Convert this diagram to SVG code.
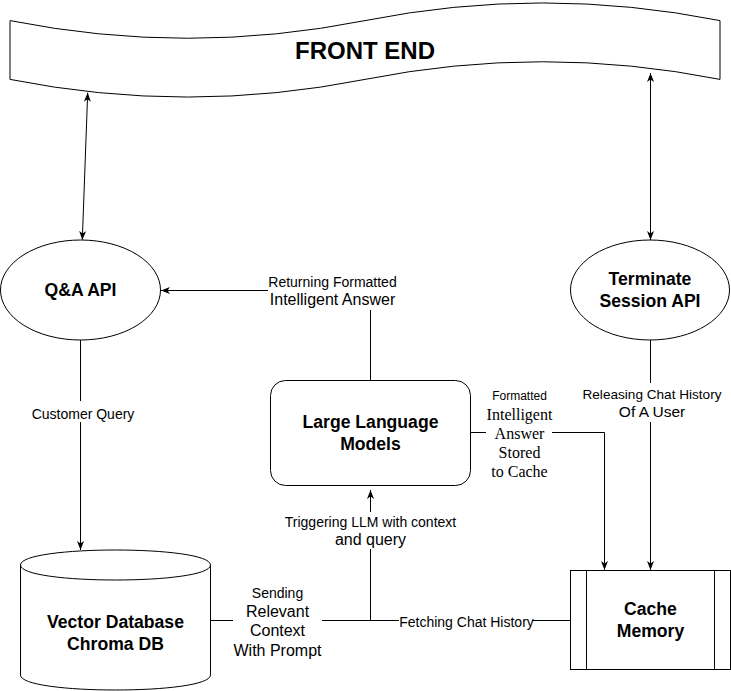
<svg xmlns="http://www.w3.org/2000/svg" width="731" height="691" viewBox="0 0 731 691">
<style>
.shape{fill:#ffffff;stroke:#000000;stroke-width:1}
.edge{fill:none;stroke:#000000;stroke-width:1}
.node{font-family:"Liberation Sans",Arial,sans-serif;font-weight:bold;font-size:17.6px;fill:#000000;text-anchor:middle;dominant-baseline:central}
.lbl{font-family:"Liberation Sans",Arial,sans-serif;font-size:14px;fill:#000000;text-anchor:middle;dominant-baseline:central}
.lbl2{font-family:"Liberation Sans",Arial,sans-serif;font-size:16px;fill:#000000;text-anchor:middle;dominant-baseline:central}
.ser{font-family:"Liberation Serif","Times New Roman",serif;font-size:16px;fill:#000000;text-anchor:middle;dominant-baseline:central}
</style>
<defs>
<marker id="arr" markerUnits="userSpaceOnUse" viewBox="0 0 9 7" refX="9" refY="3.5" markerWidth="9" markerHeight="7" orient="auto-start-reverse">
<path d="M0,0 L9,3.5 L0,7 L2.5,3.5 Z" fill="#000000"/>
</marker>
</defs>
<rect width="731" height="691" fill="#ffffff"/>

<g id="front-end">
<path class="shape" d="M10,20.6 Q187.5,55.9 365,20.6 Q542.5,-14.7 720,20.6 L720,79.4 Q542.5,44.1 365,79.4 Q187.5,114.7 10,79.4 Z"/>
<text class="node" x="365" y="50" style="font-size:24px">FRONT END</text>
</g>

<g id="qa-api">
<ellipse class="shape" cx="80.5" cy="290" rx="80" ry="50"/>
<text class="node" x="80.5" y="290">Q&amp;A API</text>
</g>

<g id="terminate-api">
<ellipse class="shape" cx="650" cy="290" rx="79.5" ry="50"/>
<text class="node" x="650" y="279">Terminate</text>
<text class="node" x="650" y="301">Session API</text>
</g>

<g id="llm">
<rect class="shape" x="270.5" y="380.5" width="200" height="105" rx="15" ry="15"/>
<text class="node" x="370.5" y="422">Large Language</text>
<text class="node" x="370.5" y="444">Models</text>
</g>

<g id="vector-db">
<path class="shape" d="M20.5,565 C20.5,545 210.5,545 210.5,565 L210.5,675 C210.5,695 20.5,695 20.5,675 Z"/>
<path class="edge" d="M20.5,565 C20.5,585 210.5,585 210.5,565"/>
<text class="node" x="115.5" y="622">Vector Database</text>
<text class="node" x="115.5" y="644">Chroma DB</text>
</g>

<g id="cache-memory">
<rect class="shape" x="570.5" y="570.5" width="160" height="99"/>
<line class="edge" x1="586.5" y1="570.5" x2="586.5" y2="669.5"/>
<line class="edge" x1="714.5" y1="570.5" x2="714.5" y2="669.5"/>
<text class="node" x="650.5" y="609">Cache</text>
<text class="node" x="650.5" y="631">Memory</text>
</g>

<g id="connectors">
<line class="edge" x1="87.7" y1="92.7" x2="82.3" y2="240" marker-start="url(#arr)" marker-end="url(#arr)"/>
<line class="edge" x1="650.5" y1="73" x2="650.5" y2="240" marker-start="url(#arr)" marker-end="url(#arr)"/>

<line class="edge" x1="80.5" y1="340" x2="80.5" y2="401"/>
<line class="edge" x1="80.5" y1="422" x2="80.5" y2="550" marker-end="url(#arr)"/>
<text class="lbl" x="83" y="414">Customer Query</text>

<line class="edge" x1="370.5" y1="380" x2="370.5" y2="310"/>
<line class="edge" x1="268" y1="290.5" x2="161" y2="290.5" marker-end="url(#arr)"/>
<text class="lbl" x="332.5" y="281.5">Returning Formatted</text>
<text class="lbl2" x="332.5" y="299">Intelligent Answer</text>

<line class="edge" x1="470" y1="432.5" x2="486" y2="432.5"/>
<polyline class="edge" points="552,432.5 604.5,432.5 604.5,570" marker-end="url(#arr)"/>
<text class="lbl" x="519.5" y="396" style="font-size:12px">Formatted</text>
<text class="ser" x="519.5" y="414.5">Intelligent</text>
<text class="ser" x="519.5" y="433.5">Answer</text>
<text class="ser" x="519.5" y="452.5">Stored</text>
<text class="ser" x="519.5" y="471">to Cache</text>

<line class="edge" x1="650.5" y1="340" x2="650.5" y2="383"/>
<line class="edge" x1="650.5" y1="422" x2="650.5" y2="570" marker-end="url(#arr)"/>
<text class="lbl" x="652" y="394" style="font-size:13.6px">Releasing Chat History</text>
<text class="lbl2" x="652" y="411.5" style="font-size:15.5px">Of A User</text>

<line class="edge" x1="210.5" y1="620.5" x2="233" y2="620.5"/>
<line class="edge" x1="322" y1="620.5" x2="399" y2="620.5"/>
<line class="edge" x1="533" y1="620.5" x2="570.5" y2="620.5"/>
<line class="edge" x1="370.5" y1="620.5" x2="370.5" y2="549"/>
<line class="edge" x1="370.5" y1="512" x2="370.5" y2="490" marker-end="url(#arr)"/>
<text class="lbl" x="370.5" y="521.5">Triggering LLM with context</text>
<text class="lbl2" x="370.5" y="539">and query</text>
<text class="lbl" x="277.5" y="593">Sending</text>
<text class="lbl2" x="277.5" y="611.5">Relevant</text>
<text class="lbl2" x="277.5" y="630.5">Context</text>
<text class="lbl2" x="277.5" y="650.5">With Prompt</text>
<text class="lbl" x="466.5" y="622">Fetching Chat History</text>
</g>
</svg>
